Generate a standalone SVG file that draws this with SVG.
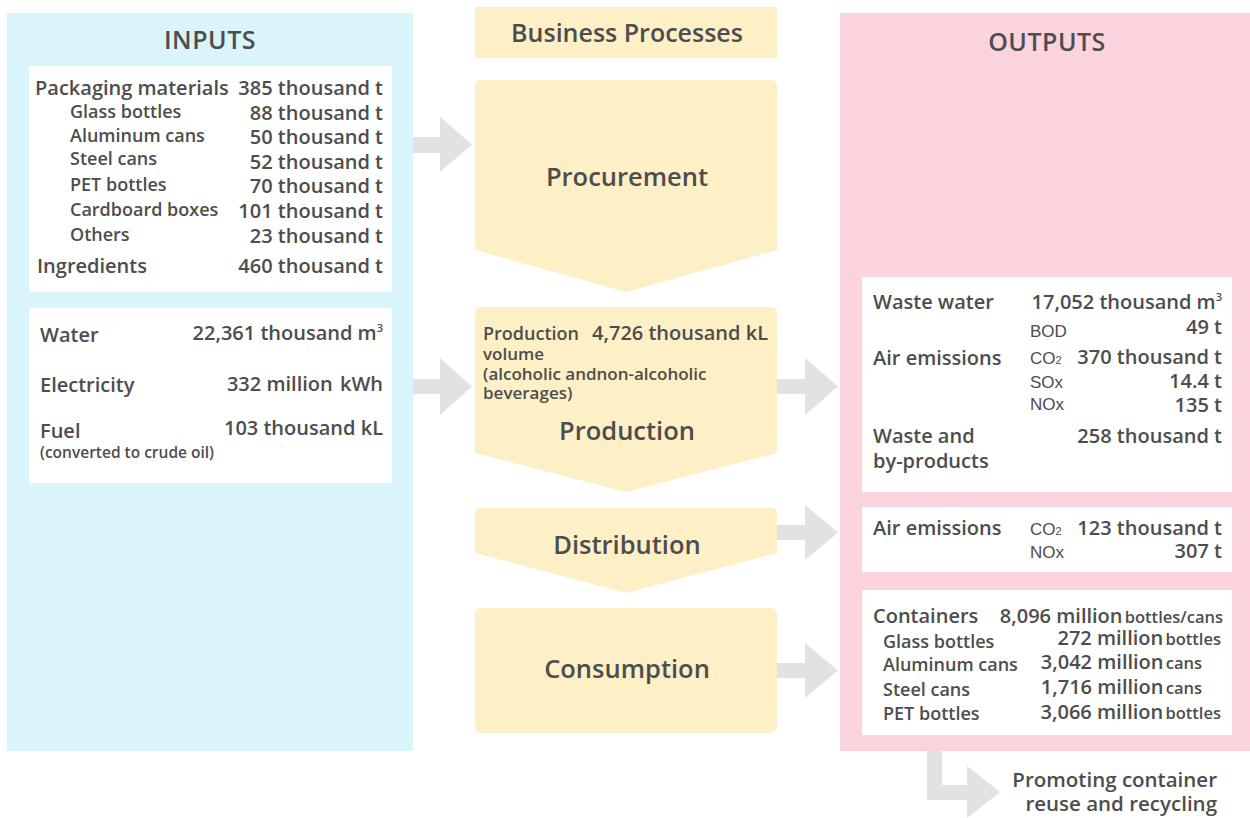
<svg xmlns="http://www.w3.org/2000/svg" width="1250" height="818" viewBox="0 0 1250 818">
<style>
  text { font-family: "Open Sans", "Liberation Sans", sans-serif; fill: #4d4d4d; font-weight: 600; }
  .hd { font-size: 25px; text-anchor: middle; }
  .pl { font-size: 25.5px; text-anchor: middle; }
  .l { font-size: 20px; }
  .s { font-size: 18px; }
  .v { font-size: 20px; text-anchor: end; }
  .r { text-anchor: end; }
  .g { font-family: "Liberation Sans", Arial, sans-serif; font-weight: 400; font-size: 17px; }
  .u { font-size: 16.5px; }
  .proc { fill: #fdf0c6; }
  .arr { fill: #e2e2e2; }
  .wb { fill: #ffffff; }
</style>
<rect width="1250" height="818" fill="#ffffff"/>

<g id="inputs">
  <rect x="7" y="13" width="406" height="738" fill="#d9f4fa"/>
  <text class="hd" x="210" y="49" letter-spacing="0.5">INPUTS</text>
  <rect class="wb" x="29" y="66" width="363" height="226"/>
  <text class="l" x="35" y="95">Packaging materials</text>
  <text class="v" x="383" y="95">385 thousand t</text>
  <text class="s" x="70" y="118">Glass bottles</text>
  <text class="v" x="383" y="120">88 thousand t</text>
  <text class="s" x="70" y="142">Aluminum cans</text>
  <text class="v" x="383" y="144">50 thousand t</text>
  <text class="s" x="70" y="165">Steel cans</text>
  <text class="v" x="383" y="169">52 thousand t</text>
  <text class="s" x="70" y="191">PET bottles</text>
  <text class="v" x="383" y="193">70 thousand t</text>
  <text class="s" x="70" y="216">Cardboard boxes</text>
  <text class="v" x="383" y="218">101 thousand t</text>
  <text class="s" x="70" y="241">Others</text>
  <text class="v" x="383" y="243">23 thousand t</text>
  <text class="l" x="37" y="273" font-size="21">Ingredients</text>
  <text class="v" x="383" y="273">460 thousand t</text>

  <rect class="wb" x="29" y="308" width="363" height="175"/>
  <text class="l" x="40" y="342">Water</text>
  <text class="v" x="383" y="340">22,361 thousand m<tspan font-size="11" dy="-8">3</tspan></text>
  <text class="l" x="40" y="392">Electricity</text>
  <text class="v" x="383" y="391">332 million <tspan dx="2">kWh</tspan></text>
  <text class="l" x="40" y="438">Fuel</text>
  <text class="v" x="383" y="435">103 thousand kL</text>
  <text x="40" y="458" font-size="15.5">(converted to crude oil)</text>
</g>

<g id="business-processes">
  <rect class="proc" x="475" y="7" width="302" height="51"/>
  <text class="hd" x="627" y="42">Business Processes</text>
</g>

<g id="procurement">
  <path class="proc" d="M475,86 Q475,80 481,80 H771 Q777,80 777,86 V250 L626,292 L475,250 Z"/>
  <text class="pl" x="627" y="186">Procurement</text>
</g>

<g id="production">
  <path class="proc" d="M475,313 Q475,307 481,307 H771 Q777,307 777,313 V453 L626,492 L475,453 Z"/>
  <text x="483" y="340" font-size="18">Production</text>
  <text x="768" y="340" font-size="20" text-anchor="end">4,726 thousand kL</text>
  <text x="483" y="360" font-size="17">volume</text>
  <text x="483" y="380" font-size="17">(alcoholic andnon-alcoholic</text>
  <text x="483" y="399" font-size="17">beverages)</text>
  <text class="pl" x="627" y="440">Production</text>
</g>

<g id="distribution">
  <path class="proc" d="M475,514 Q475,508 481,508 H771 Q777,508 777,514 V553 L626,593 L475,553 Z"/>
  <text class="pl" x="627" y="554">Distribution</text>
</g>

<g id="consumption">
  <rect class="proc" x="475" y="608" width="302" height="125" rx="6"/>
  <text class="pl" x="627" y="678">Consumption</text>
</g>

<g id="outputs">
  <rect x="840" y="13" width="410" height="738" fill="#fbd3dc"/>
  <text class="hd" x="1047" y="51" letter-spacing="0.5">OUTPUTS</text>

  <rect class="wb" x="862" y="277" width="370" height="215"/>
  <text class="l" x="873" y="309">Waste water</text>
  <text class="v" x="1222" y="309">17,052 thousand m<tspan font-size="11" dy="-8">3</tspan></text>
  <text class="g" x="1030" y="337">BOD</text>
  <text class="v" x="1222" y="334">49 t</text>
  <text class="l" x="873" y="365">Air emissions</text>
  <text class="g" x="1030" y="364">CO<tspan font-size="11">2</tspan></text>
  <text class="v" x="1222" y="364">370 thousand t</text>
  <text class="g" x="1030" y="388">SOx</text>
  <text class="v" x="1222" y="388">14.4 t</text>
  <text class="g" x="1030" y="410">NOx</text>
  <text class="v" x="1222" y="412">135 t</text>
  <text class="l" x="873" y="443">Waste and</text>
  <text class="l" x="873" y="468">by-products</text>
  <text class="v" x="1222" y="443">258 thousand t</text>

  <rect class="wb" x="862" y="507" width="370" height="65"/>
  <text class="l" x="873" y="535">Air emissions</text>
  <text class="g" x="1030" y="535">CO<tspan font-size="11">2</tspan></text>
  <text class="v" x="1222" y="535">123 thousand t</text>
  <text class="g" x="1030" y="558">NOx</text>
  <text class="v" x="1222" y="558">307 t</text>

  <rect class="wb" x="862" y="590" width="370" height="145"/>
  <text class="l" x="873" y="623" font-size="19.5">Containers</text>
  <text class="v" x="1223" y="623">8,096 million <tspan class="u" dx="-3">bottles/cans</tspan></text>
  <text class="s" x="883" y="648">Glass bottles</text>
  <text class="v" x="1221" y="645">272 million <tspan class="u" dx="-3">bottles</tspan></text>
  <text class="s" x="883" y="671">Aluminum cans</text>
  <text class="v" x="1202" y="669">3,042 million <tspan class="u" dx="-3">cans</tspan></text>
  <text class="s" x="883" y="696">Steel cans</text>
  <text class="v" x="1202" y="694">1,716 million <tspan class="u" dx="-3">cans</tspan></text>
  <text class="s" x="883" y="720">PET bottles</text>
  <text class="v" x="1221" y="719">3,066 million <tspan class="u" dx="-3">bottles</tspan></text>
</g>

<g id="recycling">
  <text class="r" x="1217" y="787" font-size="20.5">Promoting container</text>
  <text class="r" x="1217" y="811" font-size="20.5">reuse and recycling</text>
</g>

<g id="connectors">
  <polygon class="arr" points="413,137 440,137 440,117 472,144.5 440,172 440,153 413,153"/>
  <polygon class="arr" points="413,379 440,379 440,358 472,386.5 440,415 440,394 413,394"/>
  <polygon class="arr" points="777,379 805,379 805,358 838,386.5 805,415 805,394 777,394"/>
  <polygon class="arr" points="777,525 805,525 805,505 838,532.5 805,560 805,540 777,540"/>
  <polygon class="arr" points="777,663 805,663 805,643 838,670.5 805,698 805,678 777,678"/>
  <polygon class="arr" points="927,751 942,751 942,785 967,785 967,766 1000,792 967,818 967,800 927,800"/>
</g>
</svg>
